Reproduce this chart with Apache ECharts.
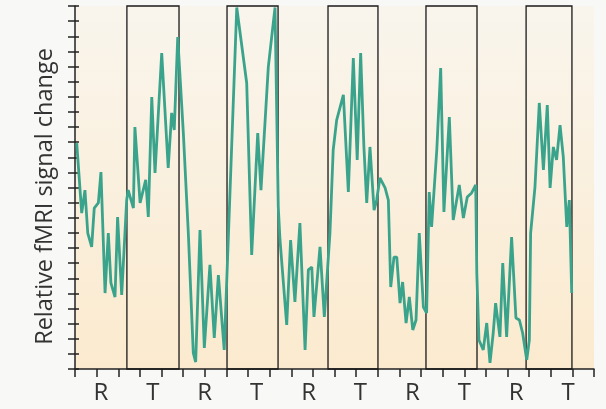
<!DOCTYPE html>
<html>
<head>
<meta charset="utf-8">
<script src="https://cdn.jsdelivr.net/npm/echarts@6/dist/echarts.min.js"></script>
<style>html,body{margin:0;padding:0;background:#f8f8f6;}#c{width:606px;height:409px;}</style>
</head>
<body>
<div id="c"></div>
<script>
const blockLabels = ['R','T','R','T','R','T','R','T','R','T'];
const taskStarts = [2.40, 7.03, 11.70, 16.23, 20.86];
const taskEnds   = [4.81, 9.39, 14.01, 18.59, 22.98];
const timeValues = [0.08,0.31,0.46,0.59,0.77,0.89,1.08,1.20,1.39,1.54,1.66,1.85,1.97,2.16,2.39,2.46,2.70,2.77,3.01,3.27,3.39,3.55,3.70,4.01,4.31,4.47,4.59,4.75,5.01,5.24,5.47,5.58,5.78,5.98,6.24,6.44,6.63,6.90,7.48,7.94,8.17,8.45,8.60,8.94,9.25,9.40,9.48,9.79,9.97,10.17,10.40,10.64,10.79,10.95,11.05,11.33,11.53,11.79,11.94,12.10,12.41,12.64,12.87,13.05,13.21,13.36,13.49,13.64,13.83,13.95,14.10,14.34,14.49,14.60,14.75,14.88,15.03,15.15,15.31,15.46,15.62,15.77,15.92,16.11,16.26,16.38,16.49,16.73,16.91,17.06,17.31,17.49,17.77,17.96,18.14,18.34,18.53,18.58,18.68,18.88,19.04,19.19,19.34,19.45,19.65,19.78,19.96,20.19,20.39,20.55,20.70,20.89,21.01,21.07,21.27,21.47,21.66,21.84,21.97,22.12,22.27,22.43,22.58,22.74,22.86,22.97];
const signalValues = [14.94,10.31,11.83,8.99,8.07,10.64,10.98,13.02,5.02,8.99,5.69,4.76,10.05,4.89,11.17,11.83,10.64,16.0,10.98,12.50,10.05,17.98,12.96,20.89,13.29,16.93,15.80,21.95,15.60,8.99,1.06,0.46,9.19,1.39,6.88,2.05,6.21,1.26,23.9,18.91,7.54,15.60,11.83,19.97,23.9,10.71,8.53,2.91,8.53,4.43,9.65,1.26,6.55,6.74,3.44,8.07,3.44,8.99,14.48,16.46,18.12,11.70,20.56,13.82,20.89,14.68,10.98,14.68,10.51,11.17,12.63,11.97,11.17,5.42,7.40,7.40,4.36,5.75,3.04,4.76,2.58,3.24,8.99,4.10,3.70,11.70,9.39,14.48,19.90,10.38,16.66,9.85,12.17,9.98,11.37,11.64,12.17,6.35,1.92,1.26,3.04,0.40,2.38,4.36,2.12,7.01,2.12,8.73,3.37,3.24,2.38,0.60,1.92,8.99,12.03,17.59,13.16,17.45,11.97,14.68,13.82,16.13,14.02,9.39,11.17,5.02];

const lineData = timeValues.map((t, i) => [t, signalValues[i]]);
const boxes = taskStarts.map((s, i) => [{xAxis: s, yAxis: 0}, {xAxis: taskEnds[i], yAxis: 24}]);

const chart = echarts.init(document.getElementById('c'), null, {renderer: 'canvas'});
chart.setOption({
  backgroundColor: '#f8f8f6',
  animation: false,
  grid: {
    left: 75, top: 6, right: 12, bottom: 40,
    show: true, borderWidth: 0,
    backgroundColor: {type: 'linear', x: 0, y: 0, x2: 0, y2: 1,
      colorStops: [{offset: 0, color: '#f9f5ed'}, {offset: 1, color: '#fbeace'}]}
  },
  xAxis: [{
    type: 'value', min: 0, max: 24, interval: 1,
    axisLine: {show: true, lineStyle: {color: '#222', width: 1.5}},
    axisTick: {show: true, length: 8, lineStyle: {color: '#222', width: 1.5}},
    axisLabel: {show: false},
    splitLine: {show: false}
  }, {
    type: 'category', data: blockLabels, position: 'bottom', boundaryGap: true,
    axisLine: {show: false}, axisTick: {show: false}, splitLine: {show: false},
    axisLabel: {show: true, margin: 12, fontSize: 24, color: '#333', fontFamily: 'Open Sans'}
  }],
  yAxis: [{
    type: 'value', min: 0, max: 24, interval: 1,
    name: 'Relative fMRI signal change', nameLocation: 'middle', nameGap: 18,
    nameTextStyle: {fontSize: 23.5, color: '#333', fontFamily: 'Open Sans', padding: [0, 18, 0, 0]},
    axisLine: {show: true, lineStyle: {color: '#222', width: 1.5}},
    axisTick: {show: true, length: 7, lineStyle: {color: '#222', width: 1.5}},
    axisLabel: {show: false},
    splitLine: {show: false}
  }, {
    type: 'value', min: 0, max: 24, interval: 1, position: 'left',
    axisLine: {show: false},
    axisTick: {show: true, inside: true, length: 4, lineStyle: {color: '#222', width: 1.5}},
    axisLabel: {show: false},
    splitLine: {show: false}
  }],
  series: [{
    type: 'line',
    data: lineData,
    showSymbol: false,
    symbol: 'none',
    lineStyle: {color: '#3aa38c', width: 2.8},
    z: 5,
    markArea: {
      silent: true,
      itemStyle: {color: 'rgba(0,0,0,0)', borderColor: '#1a1a1a', borderWidth: 1.3},
      data: boxes
    }
  }]
});
</script>
</body>
</html>
